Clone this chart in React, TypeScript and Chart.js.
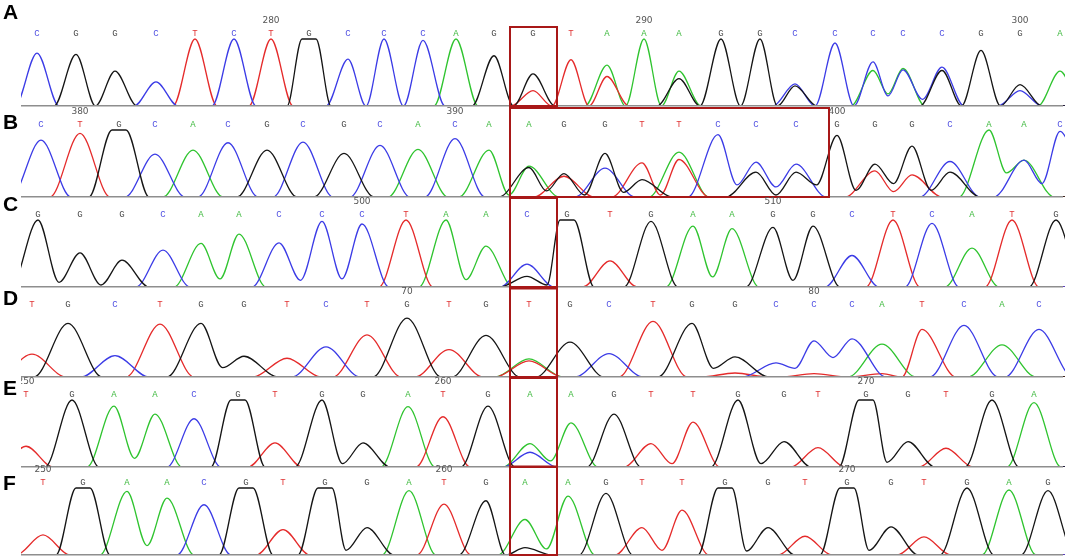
import React, { useEffect, useRef } from 'react';
import { Chart, registerables } from 'chart.js';
Chart.register(...registerables);

// ---------- DATA (scan positions, called bases, peak heights 0..1) ----------
// Panel A
const locA = [37, 76, 115, 156, 195, 234, 271, 309, 348, 384, 423, 456, 494, 533, 571, 607, 644, 679, 721, 760, 795, 835, 873, 903, 942, 981, 1020, 1060];
const seqA = 'CGGCTCTGCCCAGGTAAAGGCCCCCGGA';
const hA = [0.79, 0.77, 0.52, 0.36, 1, 1, 1, 1, 0.7, 1, 0.98, 1, 0.75, 0.48, 0.69, 0.61, 1, 0.52, 1, 1, 0.33, 0.94, 0.66, 0.54, 0.58, 0.83, 0.32, 0.52];
const secA: [number, string, number][] = [[13, 'T', 0.23], [15, 'T', 0.44], [17, 'G', 0.41], [20, 'G', 0.3], [22, 'A', 0.53], [23, 'A', 0.56], [24, 'G', 0.53], [26, 'C', 0.23]];
const troughA: [number, string, number][] = [[22, 'C', 0.15], [23, 'C', 0.1], [22, 'A', 0.18]];
const flatA = [7];
const startA = 274;
const boxA = [510, 557];

// Panel B
const locB = [41, 80, 119, 155, 193, 228, 267, 303, 344, 380, 418, 455, 489, 529, 564, 605, 642, 679, 718, 756, 796, 837, 875, 912, 950, 989, 1024, 1060];
const seqB = 'CTGCACGCGCACAAGGTTCCCGGGCAAC';
const hB = [0.85, 0.95, 1, 0.64, 0.7, 0.81, 0.7, 0.82, 0.65, 0.77, 0.71, 0.87, 0.7, 0.46, 0.35, 0.65, 0.51, 0.56, 0.93, 0.52, 0.49, 0.92, 0.49, 0.76, 0.53, 1, 0.55, 0.98];
const secB: [number, string, number][] = [[13, 'G', 0.44], [14, 'T', 0.31], [15, 'C', 0.43], [16, 'G', 0.26], [17, 'A', 0.67], [19, 'G', 0.37], [20, 'G', 0.37], [22, 'T', 0.39], [23, 'T', 0.33], [24, 'G', 0.37], [26, 'C', 0.55]];
const troughB: [number, string, number][] = [[12, 'A', 0.03], [13, 'G', 0.09], [14, 'G', 0.03], [15, 'G', 0.07], [16, 'T', 0.03], [18, 'C', 0.18], [19, 'C', 0.15], [19, 'G', 0.03], [20, 'G', 0.18], [21, 'G', 0.1], [22, 'G', 0.2], [23, 'G', 0.1], [22, 'T', 0.08], [25, 'A', 0.36], [26, 'C', 0.2]];
const flatB = [2];
const startB = 379;
const boxB = [510, 829];

// Panel C
const locC = [38, 80, 122, 163, 201, 239, 279, 322, 362, 406, 446, 486, 527, 567, 610, 651, 693, 732, 773, 813, 852, 893, 932, 972, 1012, 1056];
const seqC = 'GGGCAACCCTAACGTGAAGGCTCATG';
const hC = [1, 0.51, 0.4, 0.55, 0.65, 0.79, 0.66, 0.98, 0.94, 1, 1, 0.61, 0.34, 1, 0.39, 0.98, 0.91, 0.87, 0.89, 0.91, 0.47, 1, 0.95, 0.58, 1, 1];
const secC: [number, string, number][] = [[12, 'G', 0.16]];
const troughC: [number, string, number][] = [[0, 'G', 0.07], [1, 'G', 0.03], [4, 'A', 0.12], [6, 'C', 0.1], [7, 'C', 0.12], [10, 'A', 0.11], [12, 'G', 0.03], [16, 'A', 0.15], [18, 'G', 0.1]];
const flatC = [13];
const startC = 492;
const boxC = [510, 557];

// Panel D
const locD = [32, 68, 115, 160, 201, 244, 287, 326, 367, 407, 449, 486, 529, 570, 609, 653, 692, 735, 776, 814, 852, 882, 922, 964, 1002, 1039];
const seqD = 'TGCTGGTCTGTGTGCTGGCCCATCAC';
const hD = [0.34, 0.8, 0.32, 0.79, 0.8, 0.31, 0.28, 0.45, 0.63, 0.88, 0.41, 0.62, 0.24, 0.52, 0.35, 0.83, 0.8, 0.3, 0.21, 0.54, 0.57, 0.49, 0.71, 0.77, 0.48, 0.71];
const secD: [number, string, number][] = [[12, 'A', 0.27], [17, 'T', 0.06], [19, 'T', 0.05], [21, 'T', 0.05]];
const troughD: [number, string, number][] = [[4, 'G', 0.14], [16, 'G', 0.13], [18, 'C', 0.13], [19, 'C', 0.29]];
const flatD: number[] = [];
const startD = 61;
const boxD = [510, 557];

// Panel E
const locE = [26, 72, 114, 155, 194, 238, 275, 322, 363, 408, 443, 488, 530, 571, 614, 651, 693, 738, 784, 818, 866, 908, 946, 992, 1034];
const seqE = 'TGAACGTGGATGAAGTTGGTGGTGA';
const hE = [0.31, 1, 0.91, 0.79, 0.72, 1, 0.36, 1, 0.36, 0.9, 0.75, 0.91, 0.35, 0.66, 0.79, 0.35, 0.67, 1, 0.38, 0.29, 1, 0.38, 0.28, 1, 0.96];
const secE: [number, string, number][] = [[12, 'C', 0.22]];
const troughE: [number, string, number][] = [[2, 'A', 0.13], [7, 'G', 0.05], [12, 'A', 0.09], [15, 'T', 0.05], [17, 'G', 0.05], [20, 'G', 0.07]];
const flatE = [5, 20];
const startE = 250;
const boxE = [510, 557];

// Panel F
const locF = [43, 83, 127, 167, 204, 246, 283, 325, 367, 409, 444, 486, 525, 568, 606, 642, 682, 725, 768, 805, 847, 891, 924, 967, 1009, 1048];
const seqF = 'TGAACGTGGATGAAGTTGGTGGTGAG';
const hF = [0.3, 1, 0.95, 0.85, 0.75, 1, 0.38, 1, 0.41, 0.96, 0.76, 0.81, 0.53, 0.88, 0.92, 0.41, 0.67, 1, 0.41, 0.28, 1, 0.42, 0.27, 1, 0.97, 0.96];
const secF: [number, string, number][] = [[12, 'G', 0.11]];
const troughF: [number, string, number][] = [[2, 'A', 0.14], [7, 'G', 0.07], [12, 'A', 0.09], [15, 'T', 0.07], [17, 'G', 0.06], [20, 'G', 0.07]];
const flatF = [1, 5, 7, 17, 20];
const startF = 250;
const boxF = [510, 557];

// drawn first = on top
const CHANNELS = ['G', 'C', 'T', 'A'];

// ---------- LAYOUT / STYLE ----------
const TRACE_COLORS: Record<string, string> = { A: '#2fc42f', C: '#3b3be6', G: '#151515', T: '#e52b2b' };
const LETTER_COLORS: Record<string, string> = { A: '#3cb83c', C: '#5151e2', G: '#4d4d4d', T: '#e03434' };

interface Panel {
  label: string; labelTop: number; base: number; boxTop: number; w: number;
  loc: number[]; seq: string; h: number[]; sec: [number, string, number][];
  tr: [number, string, number][]; flat: number[]; start: number; box: number[];
}

const PANELS: Panel[] = [
  { label: 'A', labelTop: 1, base: 106, boxTop: 11, w: 22, loc: locA, seq: seqA, h: hA, sec: secA, tr: troughA, flat: flatA, start: startA, box: boxA },
  { label: 'B', labelTop: 111, base: 197, boxTop: 1, w: 30, loc: locB, seq: seqB, h: hB, sec: secB, tr: troughB, flat: flatB, start: startB, box: boxB },
  { label: 'C', labelTop: 193, base: 287, boxTop: 1, w: 27, loc: locC, seq: seqC, h: hC, sec: secC, tr: troughC, flat: flatC, start: startC, box: boxC },
  { label: 'D', labelTop: 287, base: 377, boxTop: 1.5, w: 34, loc: locD, seq: seqD, h: hD, sec: secD, tr: troughD, flat: flatD, start: startD, box: boxD },
  { label: 'E', labelTop: 377, base: 467, boxTop: 1, w: 27, loc: locE, seq: seqE, h: hE, sec: secE, tr: troughE, flat: flatE, start: startE, box: boxE },
  { label: 'F', labelTop: 472, base: 555, boxTop: 1.5, w: 27, loc: locF, seq: seqF, h: hF, sec: secF, tr: troughF, flat: flatF, start: startF, box: boxF },
];

function buildTrace(p: Panel, ch: string) {
  const peaks: { i: number; x: number; h: number; flat: boolean }[] = [];
  for (let i = 0; i < p.seq.length; i++) {
    if (p.seq[i] === ch && p.h[i] > 0) peaks.push({ i, x: p.loc[i], h: p.h[i], flat: p.flat.includes(i) });
  }
  for (const [i, c, h] of p.sec) if (c === ch) peaks.push({ i, x: p.loc[i], h, flat: false });
  peaks.sort((a, b) => a.x - b.x);
  const w = p.w;
  const pts: { x: number; y: number }[] = [{ x: -80, y: 0 }];
  peaks.forEach((pk, k) => {
    const prev = peaks[k - 1];
    if (prev && prev.x + w >= pk.x - w) {
      const t = p.tr.find((r) => r[0] === prev.i && r[1] === ch);
      pts.push({ x: (prev.x + pk.x) / 2, y: t ? t[2] : 0 });
    } else {
      if (prev) pts.push({ x: prev.x + w, y: 0 });
      pts.push({ x: pk.x - w, y: 0 });
    }
    if (pk.flat) {
      pts.push({ x: pk.x - 7, y: pk.h });
      pts.push({ x: pk.x + 7, y: pk.h });
    } else {
      pts.push({ x: pk.x, y: pk.h });
    }
  });
  if (peaks.length) pts.push({ x: peaks[peaks.length - 1].x + w, y: 0 });
  pts.push({ x: 1200, y: 0 });
  return pts;
}

function PanelChart({ p }: { p: Panel }) {
  const ref = useRef<HTMLCanvasElement>(null);
  useEffect(() => {
    if (!ref.current) return;
    const overlay = {
      id: 'overlay',
      afterDatasetsDraw(chart: any) {
        const { ctx, chartArea: ca } = chart;
        const xs = chart.scales.x;
        ctx.save();
        ctx.strokeStyle = '#8e8e8e';
        ctx.lineWidth = 1.6;
        ctx.beginPath();
        ctx.moveTo(ca.left, ca.bottom - 0.3);
        ctx.lineTo(ca.right, ca.bottom - 0.3);
        ctx.stroke();
        ctx.textAlign = 'center';
        ctx.textBaseline = 'middle';
        for (let i = 0; i < p.seq.length; i++) {
          const x = xs.getPixelForValue(p.loc[i]);
          ctx.font = '9px "Liberation Mono", "DejaVu Sans Mono", monospace';
          ctx.fillStyle = LETTER_COLORS[p.seq[i]];
          ctx.fillText(p.seq[i], x, ca.top - 5);
          const pos = p.start + i;
          if (pos % 10 === 0) {
            ctx.font = '9px "DejaVu Sans", sans-serif';
            ctx.fillStyle = '#555';
            ctx.fillText(String(pos), x, ca.top - 18);
          }
        }
        const x0 = xs.getPixelForValue(p.box[0]);
        const x1 = xs.getPixelForValue(p.box[1]);
        ctx.strokeStyle = '#a81818';
        ctx.lineWidth = 2;
        ctx.strokeRect(x0, p.boxTop, x1 - x0, ca.bottom - p.boxTop);
        ctx.restore();
      },
    };
    const chart = new Chart(ref.current, {
      type: 'line',
      data: {
        datasets: CHANNELS.map((ch) => ({
          label: ch,
          data: buildTrace(p, ch),
          borderColor: TRACE_COLORS[ch],
          backgroundColor: TRACE_COLORS[ch],
          borderWidth: 1.3,
          pointRadius: 0,
          fill: false,
          cubicInterpolationMode: 'monotone',
          clip: { left: 0, top: 3, right: 2, bottom: 0 },
        })),
      },
      options: {
        animation: false,
        responsive: false,
        devicePixelRatio: 1,
        events: [],
        layout: { padding: { left: 21, right: 2, top: 23, bottom: 2 } },
        scales: {
          x: { type: 'linear', min: 21, max: 1063, display: false },
          y: { min: 0, max: 1, display: false },
        },
        plugins: { legend: { display: false }, tooltip: { enabled: false } },
      },
      plugins: [overlay],
    } as any);
    return () => chart.destroy();
  }, [p]);
  return (
    <canvas
      ref={ref}
      width={1065}
      height={92}
      style={{ position: 'absolute', left: 0, top: p.base - 90, width: 1065, height: 92 }}
    />
  );
}

export default function App() {
  return (
    <div style={{ position: 'absolute', left: 0, top: 0, width: 1065, height: 558, background: '#fff', overflow: 'hidden' }}>
      {PANELS.map((p) => (
        <PanelChart key={p.label} p={p} />
      ))}
      {PANELS.map((p) => (
        <div
          key={'l' + p.label}
          style={{
            position: 'absolute', left: 0, top: p.labelTop, width: 18, paddingLeft: 3,
            font: 'bold 21px "Liberation Sans", Arial, sans-serif', lineHeight: '21px',
            color: '#000', background: '#fff', zIndex: 2,
          }}
        >
          {p.label}
        </div>
      ))}
    </div>
  );
}
